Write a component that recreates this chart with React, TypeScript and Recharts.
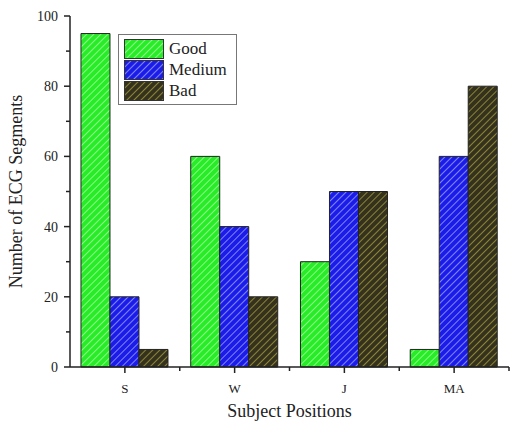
import { BarChart, Bar, XAxis, YAxis } from "recharts";

const positions = ["S", "W", "J", "MA"];
const good = [95, 60, 30, 5];
const medium = [20, 40, 50, 60];
const bad = [5, 20, 50, 80];
const yTicks = [0, 10, 20, 30, 40, 50, 60, 70, 80, 90, 100];

const data = positions.map((pos, i) => ({
  pos,
  good: good[i],
  medium: medium[i],
  bad: bad[i],
}));

const series = [
  { key: "good", label: "Good", base: "#27ec27", stripe: "#b8ffb0", id: "hatchGood" },
  { key: "medium", label: "Medium", base: "#1c1ce8", stripe: "#a8b4ff", id: "hatchMedium" },
  { key: "bad", label: "Bad", base: "#34321c", stripe: "#b4a844", id: "hatchBad" },
];

const font = "'Liberation Serif', 'Times New Roman', serif";

const YTick = (props: any) => {
  const { x, y, payload } = props;
  const major = payload.value % 20 === 0;
  return (
    <g>
      <line x1={x} x2={x - (major ? 6 : 4)} y1={y} y2={y} stroke="#222" strokeWidth={1.5} />
      {major && (
        <text x={x - 12} y={y} dy={5} textAnchor="end" fontSize={14} fontFamily={font} fill="#222">
          {payload.value}
        </text>
      )}
    </g>
  );
};

// major tick at the category centre, minor tick at the band's right edge
const XTick = (props: any) => {
  const { x, y, payload } = props;
  const half = payload.offset || 0;
  return (
    <g>
      <line x1={x} x2={x} y1={y} y2={y + 6} stroke="#222" strokeWidth={1.5} />
      {half > 0 && (
        <line x1={x + half} x2={x + half} y1={y} y2={y + 4} stroke="#222" strokeWidth={1.5} />
      )}
      <text x={x} y={y + 26} textAnchor="middle" fontSize={13} fontFamily={font} fill="#222">
        {payload.value}
      </text>
    </g>
  );
};

const LegendBox = () => (
  <div
    style={{
      position: "absolute",
      left: 118,
      top: 34,
      border: "1px solid #777",
      background: "white",
      width: 112,
      padding: "3px 0 3px 5px",
      fontFamily: font,
      fontSize: 17,
      color: "#222",
    }}
  >
    {series.map((s) => (
      <div key={s.key} style={{ display: "flex", alignItems: "center", height: 21 }}>
        <svg width={40} height={20} style={{ marginRight: 5 }}>
          <rect x={0.5} y={0.5} width={39} height={19} fill={`url(#${s.id})`} stroke="#333" />
        </svg>
        {s.label}
      </div>
    ))}
  </div>
);

export default function App() {
  return (
    <div style={{ position: "absolute", left: 0, top: 0, background: "white" }}>
      <BarChart
        width={510}
        height={425}
        data={data}
        margin={{ top: 16, right: 1, bottom: 0, left: 0 }}
        barCategoryGap="10%"
        barGap={0}
      >
        <defs>
          {series.map((s) => (
            <pattern
              key={s.id}
              id={s.id}
              patternUnits="userSpaceOnUse"
              width={5}
              height={5}
              patternTransform="rotate(45)"
            >
              <rect width={5} height={5} fill={s.base} />
              <line x1={0} y1={0} x2={0} y2={5} stroke={s.stripe} strokeWidth={1.4} />
            </pattern>
          ))}
        </defs>
        <XAxis
          dataKey="pos"
          height={58}
          axisLine={{ stroke: "#222", strokeWidth: 1.5 }}
          tickLine={false}
          tickSize={0}
          tickMargin={0}
          tick={<XTick />}
          interval={0}
          label={{
            value: "Subject Positions",
            position: "insideBottom",
            offset: 8,
            style: { fontFamily: font, fontSize: 18, fill: "#222" },
          }}
        />
        <YAxis
          width={70}
          domain={[0, 100]}
          ticks={yTicks}
          interval={0}
          tickLine={false}
          tickSize={0}
          tickMargin={0}
          tick={<YTick />}
          axisLine={{ stroke: "#222", strokeWidth: 1.5 }}
          label={{
            value: "Number of ECG Segments",
            angle: -90,
            position: "insideLeft",
            offset: 16,
            style: { fontFamily: font, fontSize: 18, fill: "#222", textAnchor: "middle" },
          }}
        />
        {series.map((s) => (
          <Bar
            key={s.key}
            dataKey={s.key}
            name={s.label}
            fill={`url(#${s.id})`}
            stroke="#222"
            strokeWidth={1}
            isAnimationActive={false}
          />
        ))}
      </BarChart>
      <LegendBox />
    </div>
  );
}
